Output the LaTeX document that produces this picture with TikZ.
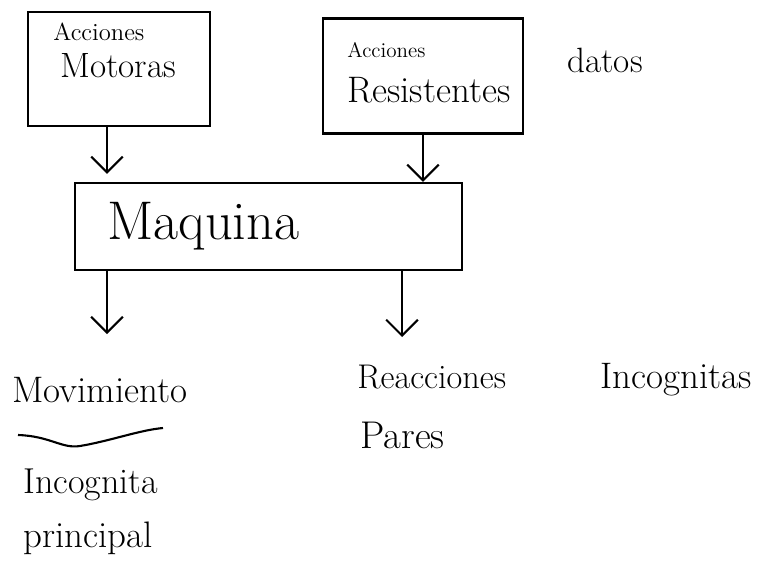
\documentclass[tikz,border=0pt]{standalone}
\usepackage{tikz}
\usetikzlibrary{positioning,arrows.meta}

\tikzset{
	caja/.style={draw,line width=1.2pt,inner sep=0pt},
	flecha/.style={line width=1.2pt,-{Straight Barb[length=9pt,width=18pt]}},
	texto/.style={inner sep=0pt,anchor=west}
}

\begin{document}
\begin{tikzpicture}[x=0.02cm,y=-0.02cm]
	\useasboundingbox (0,0) rectangle (773,561);
	
	\node[caja,minimum width=3.64cm,minimum height=2.28cm] (motoras) at (119,69) {};
	\node[caja,minimum width=4cm,minimum height=2.3cm] (resist) at (423,76) {};
	\node[caja,minimum width=7.74cm,minimum height=1.74cm] (maquina) at (268.5,226.5) {};
	
	\node[texto,font=\fontsize{14}{16}\selectfont] (accm) at (53,32) {Acciones};
	\node[texto,font=\fontsize{20}{24}\selectfont] (mot) at (60,66) {Motoras};
	\node[texto,font=\fontsize{12}{14}\selectfont] (accr) at (347,50) {Acciones};
	\node[texto,font=\fontsize{21}{25}\selectfont] (res) at (347,90) {Resistentes};
	\node[texto,font=\fontsize{20}{24}\selectfont] (datos) at (567,60) {datos};
	\node[texto,font=\fontsize{31}{36}\selectfont] (maq) at (107,226) {Maquina};
	
	\node[texto,font=\fontsize{21}{25}\selectfont] (mov) at (12,390) {Movimiento};
	\node[texto,font=\fontsize{20.5}{24}\selectfont] (inc) at (23,485) {Incognita};
	\node[texto,font=\fontsize{21}{25}\selectfont] (princ) at (23,538) {principal};
	\node[texto,font=\fontsize{19.5}{23}\selectfont] (reac) at (357,377) {Reacciones};
	\node[texto,font=\fontsize{22}{26}\selectfont] (pares) at (360,435) {Pares};
	\node[texto,font=\fontsize{21}{25}\selectfont] (incs) at (600,380) {Incognitas};
	
	\coordinate (x1) at (107,0);
	\coordinate (x2) at (423,0);
	\coordinate (fin1) at (107,334);
	\coordinate (fin2) at (402,337);
	
	\draw[flecha,shorten >=0.16cm] (motoras.south -| x1) -- (maquina.north -| x1);
	\draw[flecha] (resist.south -| x2) -- (maquina.north -| x2);
	\draw[flecha] (maquina.south -| fin1) -- (fin1);
	\draw[flecha] (maquina.south -| fin2) -- (fin2);
	
	\draw[line width=1.2pt] (18,435) .. controls (50,436) and (62,449) .. (80,446) .. controls (110,441) and (140,430) .. (163,428);
\end{tikzpicture}
\end{document}
